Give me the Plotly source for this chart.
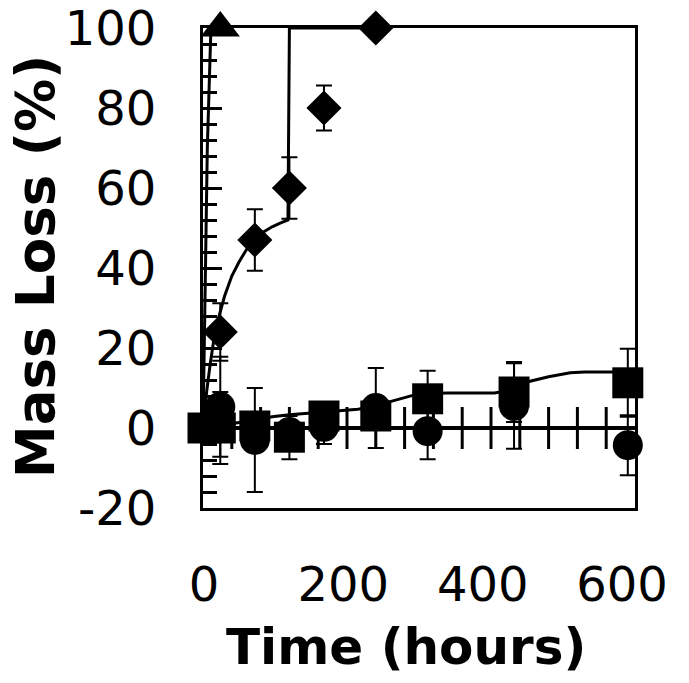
import plotly.graph_objects as go

# ---------------- data ----------------
# sampling times (hours)
sq_time = [0, 24, 72, 120, 168, 240, 312, 432, 590]
sq_loss = [0, 0, 0.5, -2.3, 3, 3, 7.3, 9, 11.3]
sq_err = [0, 9, 3, 5.5, 2, 2, 7, 7.5, 8.5]

ci_time = [0, 24, 72, 120, 168, 240, 312, 432, 590]
ci_loss = [0, 5.3, -3, -1, 0.3, 5, -0.8, 5.5, -4.3]
ci_err = [0, 12.5, 13, 4, 4.3, 10, 7, 10.7, 7.5]

di_time = [24, 72, 120, 168, 240]
di_loss = [24, 47, 60, 80, 100]
di_err = [7.2, 7.7, 7.7, 5.6, 0]

tr_time = [24]
tr_loss = [100]

# fitted curves
tr_fit_t = [0, 6, 11, 24]
tr_fit_y = [0, 70, 100, 100]

di_fit_t = [0, 5, 10, 15, 20, 25, 30, 40, 50, 60, 72, 84, 96, 108, 118, 120, 240]
di_fit_y = [0, 9, 16, 22, 26.5, 30, 33, 38, 41.5, 44.5, 47.3, 49, 50.3, 51.3, 52, 100, 100]

sq_fit_t = [0, 24, 48, 72, 96, 120, 150, 190, 215, 240, 260, 290, 312, 340, 405, 432,
            450, 480, 510, 530, 590]
sq_fit_y = [0, 0.5, 1.3, 2, 2.8, 3.3, 3.7, 4.4, 4.7, 5.4, 6.6, 8.1, 8.6, 8.75, 8.75, 9.6,
            11.5, 12.8, 13.8, 14, 14]

# tick marks crossing the zero line (hours)
zero_ticks = [40, 80, 120, 160, 200, 240, 280, 320, 360, 400, 440, 480, 520, 560]
zero_ticks_y = [0] * len(zero_ticks)

x_tick_vals = [0, 200, 400, 600]
x_tick_text = ["0", "200", "400", "600"]
y_tick_vals = [-20, 0, 20, 40, 60, 80, 100]
y_tick_text = ["-20", "0", "20", "40", "60", "80", "100"]

x_title = "Time (hours)"
y_title = "Mass Loss (%)"

# ---------------- figure ----------------
BLACK = "black"
FONT = "DejaVu Sans"

fig = go.Figure()

line_style = dict(color=BLACK, width=3)
for t, y in [(tr_fit_t, tr_fit_y), (di_fit_t, di_fit_y), (sq_fit_t, sq_fit_y)]:
    fig.add_trace(go.Scatter(x=t, y=y, mode="lines", line=line_style,
                             cliponaxis=False, showlegend=False, hoverinfo="skip"))

# crossing ticks on zero line
fig.add_trace(go.Scatter(x=zero_ticks, y=zero_ticks_y, mode="markers",
                         marker=dict(symbol="line-ns", size=30,
                                     line=dict(color=BLACK, width=3)),
                         showlegend=False, hoverinfo="skip"))


def err(arr):
    return dict(type="data", array=arr, visible=True, color=BLACK,
                thickness=2, width=8)


fig.add_trace(go.Scatter(x=ci_time, y=ci_loss, mode="markers", error_y=err(ci_err),
                         marker=dict(symbol="circle", size=30, color=BLACK),
                         cliponaxis=False, showlegend=False))
fig.add_trace(go.Scatter(x=sq_time, y=sq_loss, mode="markers", error_y=err(sq_err),
                         marker=dict(symbol="square", size=31, color=BLACK),
                         cliponaxis=False, showlegend=False))
fig.add_trace(go.Scatter(x=di_time, y=di_loss, mode="markers", error_y=err(di_err),
                         marker=dict(symbol="diamond", size=27, color=BLACK),
                         cliponaxis=False, showlegend=False))
fig.add_trace(go.Scatter(x=tr_time, y=tr_loss, mode="markers",
                         marker=dict(symbol="triangle-up", size=34, color=BLACK),
                         cliponaxis=False, showlegend=False))

# invisible carrier so the label axis is rendered
fig.add_trace(go.Scatter(x=x_tick_vals, y=[0] * len(x_tick_vals), xaxis="x2",
                         mode="markers", marker=dict(opacity=0),
                         showlegend=False, hoverinfo="skip"))

fig.update_layout(
    template="none",
    width=681, height=675,
    margin=dict(l=195, r=54, t=20, b=175, autoexpand=False),
    paper_bgcolor="white", plot_bgcolor="white",
    font=dict(family=FONT, color=BLACK),
    xaxis=dict(range=[0, 600], showline=True, mirror=True, linecolor=BLACK,
               linewidth=3, showgrid=False, zeroline=False, ticks="",
               showticklabels=False, automargin=False),
    xaxis2=dict(overlaying="x", anchor="y", side="bottom", range=[-1.4, 618.6],
                showline=False, showgrid=False, zeroline=False, ticks="",
                tickmode="array", tickvals=x_tick_vals, ticktext=x_tick_text,
                tickfont=dict(size=48, family=FONT, color=BLACK),
                ticklabelstandoff=44, ticklabeloverflow="allow", automargin=False),
    yaxis=dict(range=[-20, 100], showline=True, mirror=True, linecolor=BLACK,
               linewidth=3, showgrid=False, zeroline=True, zerolinecolor=BLACK,
               zerolinewidth=4, ticks="inside", ticklen=19, tickwidth=3,
               tickcolor=BLACK, tickmode="array", tickvals=y_tick_vals,
               ticktext=y_tick_text, tickfont=dict(size=48, family=FONT, color=BLACK),
               ticklabelstandoff=34, ticklabeloverflow="allow", automargin=False,
               minor=dict(ticks="inside", ticklen=14, tickwidth=3, tickcolor=BLACK,
                          dtick=4, tick0=0)),
    annotations=[
        dict(text="<b>" + x_title + "</b>", xref="paper", yref="paper",
             x=0.47, y=-0.2896, xanchor="center", yanchor="middle", showarrow=False,
             font=dict(size=50, family=FONT, color=BLACK)),
        dict(text="<b>" + y_title + "</b>", xref="paper", yref="paper",
             x=-0.389, y=0.504, xanchor="center", yanchor="middle", showarrow=False,
             textangle=-90, font=dict(size=53, family=FONT, color=BLACK)),
    ],
)

fig.write_html("out.html")
